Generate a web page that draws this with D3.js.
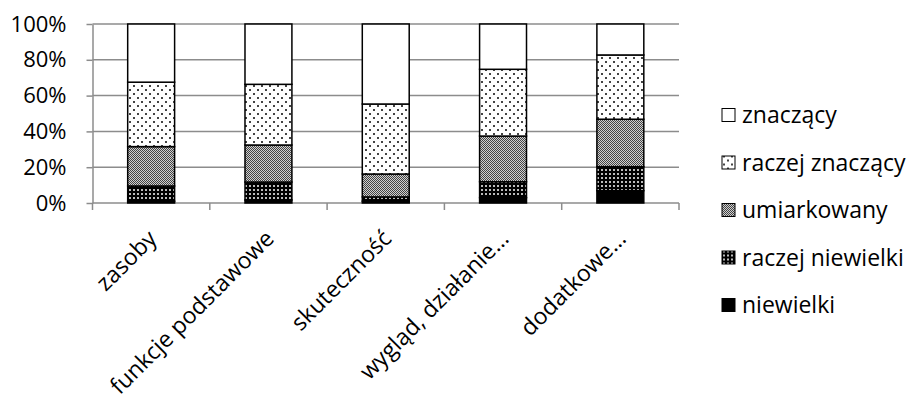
<!DOCTYPE html>
<html><head><meta charset="utf-8">
<script src="https://cdn.jsdelivr.net/npm/d3@7"></script>
<style>
body{margin:0;background:#fff}
svg{display:block}
text{font-family:"Open Sans",sans-serif;fill:#000}
</style>
</head><body>
<svg id="c" width="910" height="399"></svg>
<script>
const categories=["zasoby","funkcje podstawowe","skuteczność","wygląd, działanie…","dodatkowe…"];
const seriesNames=["niewielki","raczej niewielki","umiarkowany","raczej znaczący","znaczący"];
const niewielki=[1,1.7,1,3,6.9];
const raczejNiewielki=[8.5,10,2.4,8.9,13.4];
const umiarkowany=[22,20.7,12.8,25.5,26.5];
const raczejZnaczacy=[36,33.9,39.1,37.3,35.9];
const znaczacy=[32.5,33.7,44.7,25.3,17.3];
const yTicks=[0,20,40,60,80,100];

const seriesValues=[niewielki,raczejNiewielki,umiarkowany,raczejZnaczacy,znaczacy];
const table=categories.map((c,i)=>{const o={cat:c};seriesNames.forEach((s,j)=>o[s]=seriesValues[j][i]);return o;});
const stacked=d3.stack().keys(seriesNames)(table);

const svg=d3.select("#c");
const x=d3.scaleBand().domain(categories).range([92.5,679]).paddingInner(0.6).paddingOuter(0.3);
const y=d3.scaleLinear().domain([0,100]).range([203,24]);
const grid="#8c8c8c";

// patterns
const defs=svg.append("defs");
const p1=defs.append("pattern").attr("id","pat3").attr("patternUnits","userSpaceOnUse").attr("width",8).attr("height",8);
p1.append("rect").attr("width",8).attr("height",8).attr("fill","#fff");
p1.append("rect").attr("x",1).attr("y",1).attr("width",2).attr("height",2).attr("fill","#444");
p1.append("rect").attr("x",5).attr("y",5).attr("width",2).attr("height",2).attr("fill","#444");
const p2=defs.append("pattern").attr("id","pat2").attr("patternUnits","userSpaceOnUse").attr("width",2).attr("height",2);
p2.append("rect").attr("width",2).attr("height",2).attr("fill","#d0d0d0");
p2.append("rect").attr("x",0).attr("y",0).attr("width",1).attr("height",1).attr("fill","#444");
p2.append("rect").attr("x",1).attr("y",1).attr("width",1).attr("height",1).attr("fill","#444");
const p3=defs.append("pattern").attr("id","pat1").attr("patternUnits","userSpaceOnUse").attr("width",4).attr("height",4);
p3.append("rect").attr("width",4).attr("height",4).attr("fill","#000");
p3.append("rect").attr("x",1).attr("y",1).attr("width",2).attr("height",2).attr("fill","#bbb");
const fills=["#000","url(#pat1)","url(#pat2)","url(#pat3)","#fff"];

// gridlines
svg.append("g").selectAll("line").data(yTicks.filter(d=>d>0)).join("line")
  .attr("x1",x.range()[0]).attr("x2",x.range()[1])
  .attr("y1",d=>y(d)).attr("y2",d=>y(d))
  .attr("stroke",grid).attr("stroke-width",1.5);

// y axis
const ya=svg.append("g").attr("transform",`translate(${x.range()[0]},0)`)
  .call(d3.axisLeft(y).tickValues(yTicks).tickFormat(d=>d+"%").tickSize(6).tickSizeOuter(0).tickPadding(20));
ya.select(".domain").attr("stroke",grid).attr("stroke-width",1.5);
ya.selectAll(".tick line").attr("stroke",grid).attr("stroke-width",1.5);
ya.selectAll("text").style("font-family","'Open Sans',sans-serif").style("font-size","22px").attr("fill","#000");

// x axis line and ticks at band boundaries
svg.append("line").attr("x1",x.range()[0]).attr("x2",x.range()[1]).attr("y1",y(0)).attr("y2",y(0))
  .attr("stroke",grid).attr("stroke-width",1.5);
const bounds=d3.range(categories.length+1).map(i=>x.range()[0]+i*x.step());
svg.append("g").selectAll("line").data(bounds).join("line")
  .attr("x1",d=>d).attr("x2",d=>d).attr("y1",y(0)).attr("y2",y(0)+7)
  .attr("stroke",grid).attr("stroke-width",1.5);

// bars
svg.append("g").selectAll("g").data(stacked).join("g")
  .attr("fill",(d,i)=>fills[i])
  .selectAll("rect").data(d=>d).join("rect")
  .attr("x",d=>x(d.data.cat)).attr("width",x.bandwidth())
  .attr("y",d=>y(d[1])).attr("height",d=>y(d[0])-y(d[1]))
  .attr("stroke","#000").attr("stroke-width",1.5);

// x labels
svg.append("g").selectAll("text").data(categories).join("text")
  .attr("transform",d=>`translate(${x(d)+x.bandwidth()/2+7},240) rotate(-45)`)
  .attr("text-anchor","end").style("font-size","23px").text(d=>d);

// legend
const legendOrder=seriesNames.map((s,i)=>({s,i})).reverse();
const lg=svg.append("g").selectAll("g").data(legendOrder).join("g")
  .attr("transform",(d,k)=>`translate(722,${115+k*47.5})`);
lg.append("rect").attr("x",0).attr("y",-6.5).attr("width",13).attr("height",13)
  .attr("fill",d=>fills[d.i]).attr("stroke","#000").attr("stroke-width",1);
lg.append("text").attr("x",20).attr("dy","0.36em").style("font-size","23px").text(d=>d.s);
</script>
</body></html>
